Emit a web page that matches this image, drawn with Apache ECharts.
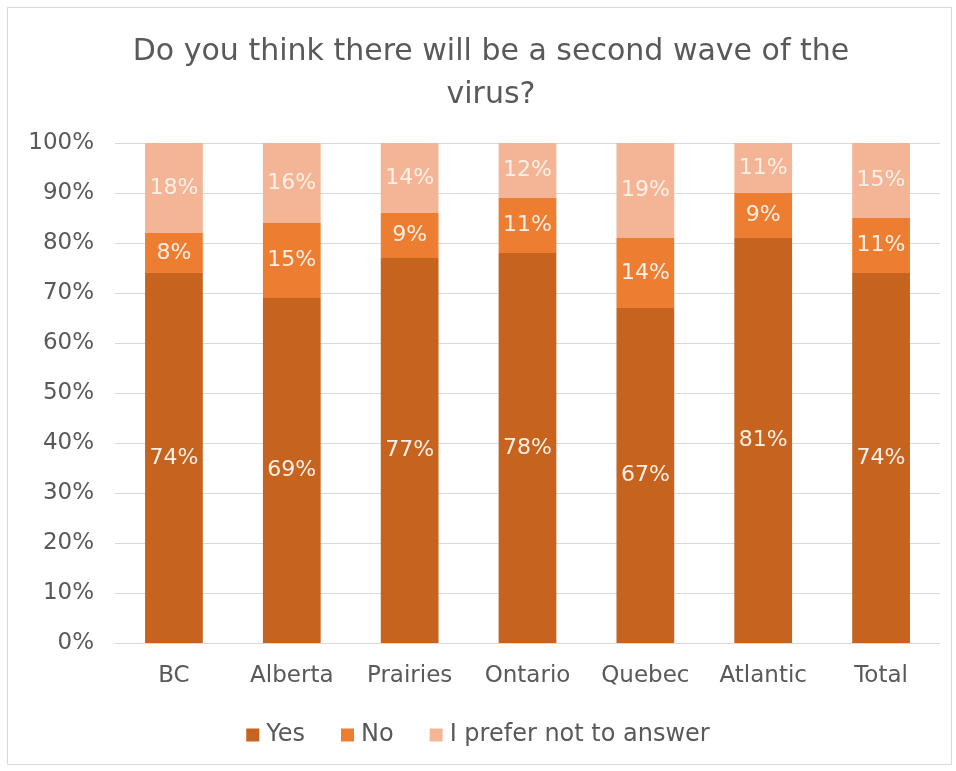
<!DOCTYPE html>
<html>
<head>
<meta charset="utf-8">
<script src="https://cdn.jsdelivr.net/npm/echarts@6/dist/echarts.min.js"></script>
<style>
html,body{margin:0;padding:0;background:#fff;}
#chart{width:956px;height:771px;}
</style>
</head>
<body>
<div id="chart"></div>
<script>
const categories = ['BC', 'Alberta', 'Prairies', 'Ontario', 'Quebec', 'Atlantic', 'Total'];
const yesValues = [74, 69, 77, 78, 67, 81, 74];
const noValues = [8, 15, 9, 11, 14, 9, 11];
const preferValues = [18, 16, 14, 12, 19, 11, 15];
const seriesNames = ['Yes', 'No', 'I prefer not to answer'];
const yTicks = [0, 10, 20, 30, 40, 50, 60, 70, 80, 90, 100];

const FONT = '"DejaVu Sans", "Noto Sans", sans-serif';
const chart = echarts.init(document.getElementById('chart'));

function mk(name, data, color) {
  return {
    name: name,
    type: 'bar',
    stack: 'total',
    data: data,
    barWidth: '49%',
    clip: true,
    itemStyle: { color: color },
    label: {
      show: true,
      position: 'inside',
      formatter: '{c}%',
      color: '#fdf0e6',
      fontFamily: FONT,
      fontSize: 22
    }
  };
}

chart.setOption({
  animation: false,
  backgroundColor: '#fff',
  graphic: [{
    type: 'rect',
    shape: { x: 7.5, y: 7.5, width: 944, height: 757 },
    style: { fill: 'none', stroke: '#d9d9d9', lineWidth: 1 },
    silent: true
  }],
  title: {
    text: 'Do you think there will be a second wave of the\nvirus?',
    left: 486,
    textAlign: 'center',
    top: 26,
    textStyle: {
      fontFamily: FONT,
      fontWeight: 'normal',
      fontSize: 30,
      color: '#595959',
      lineHeight: 43
    }
  },
  legend: {
    data: seriesNames,
    bottom: 19,
    left: 'center',
    itemWidth: 13,
    itemHeight: 13,
    itemGap: 36,
    icon: 'rect',
    textStyle: { fontFamily: FONT, fontSize: 24, color: '#595959', padding: [0, 0, 0, 2] }
  },
  grid: { left: 115, right: 16, top: 143, bottom: 128, containLabel: false },
  xAxis: {
    type: 'category',
    data: categories,
    axisLine: { lineStyle: { color: '#d9d9d9', width: 1 } },
    axisTick: { show: false },
    axisLabel: { fontFamily: FONT, fontSize: 23, color: '#595959', margin: 22 }
  },
  yAxis: {
    type: 'value',
    min: yTicks[0],
    max: yTicks[yTicks.length - 1],
    interval: 10,
    axisLine: { show: false },
    axisTick: { show: false },
    splitLine: { lineStyle: { color: '#d9d9d9', width: 1 } },
    axisLabel: { formatter: '{value}%', fontFamily: FONT, fontSize: 23, color: '#595959', margin: 21 }
  },
  series: [
    mk(seriesNames[0], yesValues, '#c5631f'),
    mk(seriesNames[1], noValues, '#ed7d31'),
    mk(seriesNames[2], preferValues, '#f4b597')
  ]
});
</script>
</body>
</html>
